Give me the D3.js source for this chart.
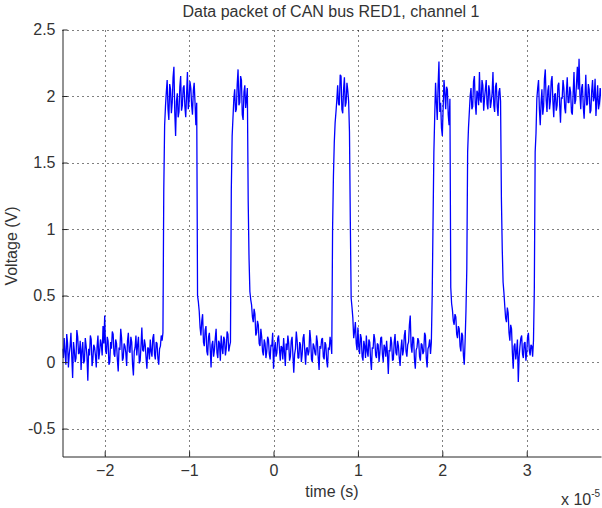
<!DOCTYPE html>
<html>
<head>
<meta charset="utf-8">
<script src="https://cdn.jsdelivr.net/npm/d3@7"></script>
<style>
  body { margin: 0; background: #fff; }
  svg { display: block; font-family: "Liberation Sans", Arial, sans-serif; }
</style>
</head>
<body>
<script>
// Scope capture of one CAN data packet (time in units of 1e-5 s)

let sampleStart = -2.5;
let sampleStep = 0.01;

// one value every 0.01 (x 10^-5 s), 20 per row
let voltage = [
    0.10, 0.03, 0.18, 0.07, -0.02, 0.21, 0.14, -0.04, 0.06, 0.12, 0.22, 0.04, -0.12, 0.15, 0.09, 0.00, 0.03, 0.24, 0.19, 0.06,
    0.07, 0.16, -0.06, 0.09, 0.15, -0.01, 0.01, 0.18, 0.12, 0.04, -0.14, 0.10, 0.05, 0.20, 0.17, -0.03, 0.02, 0.13, 0.11, 0.05,
    -0.04, 0.12, 0.20, 0.02, 0.08, 0.17, 0.13, 0.05, 0.27, 0.14, 0.35, 0.09, 0.06, 0.19, 0.16, -0.02, 0.00, 0.15, 0.10, 0.23,
    0.21, 0.06, 0.04, 0.17, 0.14, 0.02, -0.07, 0.11, 0.09, 0.25, 0.18, 0.01, 0.03, 0.14, 0.12, 0.07, -0.03, 0.16, 0.22, 0.08,
    0.07, 0.19, 0.15, -0.02, -0.10, 0.08, 0.11, 0.20, 0.05, 0.13, 0.19, -0.01, 0.01, 0.12, 0.26, 0.09, 0.08, 0.17, 0.13, 0.03,
    -0.05, 0.11, 0.10, 0.02, 0.17, 0.08, 0.04, 0.18, 0.21, 0.06, 0.02, 0.15, 0.14, 0.03, -0.02, 0.10, 0.12, 0.20, 0.16, 0.22,
    1.30, 1.78, 1.92, 2.03, 2.12, 1.90, 1.82, 2.09, 2.05, 1.87, 1.95, 2.14, 2.22, 1.88, 1.70, 1.96, 2.02, 1.84, 1.88, 2.07,
    2.15, 1.89, 1.93, 2.06, 2.08, 1.92, 1.84, 2.01, 2.18, 1.90, 1.97, 2.11, 2.06, 1.93, 1.86, 2.04, 2.10, 1.95, 1.78, 1.95,
    0.50, 0.45, 0.38, 0.26, 0.20, 0.31, 0.36, 0.15, 0.12, 0.24, 0.27, 0.08, 0.05, 0.19, 0.22, 0.10, -0.04, 0.13, 0.16, 0.04,
    0.09, 0.18, 0.25, 0.07, 0.03, 0.16, 0.14, 0.01, 0.20, 0.11, 0.06, 0.19, 0.17, 0.05, 0.10, 0.23, 0.21, 0.08, 0.12, 0.15,
    1.30, 1.70, 1.84, 1.98, 2.05, 1.88, 1.90, 2.09, 2.20, 1.93, 1.95, 2.15, 2.12, 1.86, 1.82, 2.03, 2.08, 1.91, 1.98, 2.06,
    1.21, 0.78, 0.53, 0.47, 0.43, 0.34, 0.30, 0.40, 0.36, 0.20, 0.22, 0.31, 0.28, 0.14, 0.12, 0.25, 0.19, 0.08, 0.05, 0.17,
    0.14, 0.03, 0.08, 0.19, 0.17, 0.06, 0.02, 0.13, 0.12, 0.22, -0.05, 0.09, 0.15, 0.04, 0.07, 0.18, 0.20, 0.10, 0.01, 0.12,
    0.11, 0.02, 0.18, 0.07, -0.03, 0.14, 0.09, 0.20, 0.14, 0.01, 0.04, 0.16, 0.19, 0.05, -0.08, 0.06, 0.10, 0.23, 0.16, 0.03,
    0.03, 0.15, 0.13, 0.00, 0.06, 0.18, 0.21, 0.09, -0.02, 0.10, 0.11, 0.05, 0.08, 0.24, 0.17, 0.02, 0.00, 0.14, 0.12, 0.07,
    0.05, 0.20, 0.15, 0.03, -0.06, 0.12, 0.10, 0.17, 0.18, 0.04, 0.02, 0.15, 0.13, 0.01, -0.04, 0.11, 0.09, 0.19, 0.14, 0.06,
    1.01, 1.40, 1.65, 1.80, 1.88, 1.97, 2.08, 1.94, 1.93, 2.16, 2.15, 1.90, 1.87, 2.05, 2.14, 1.92, 1.95, 2.10, 2.04, 1.96,
    1.73, 1.05, 0.48, 0.41, 0.33, 0.18, 0.23, 0.30, 0.14, 0.09, 0.26, 0.12, 0.06, 0.21, 0.18, 0.04, 0.01, 0.16, 0.12, 0.03,
    0.20, 0.08, 0.04, 0.17, 0.15, 0.02, -0.06, 0.11, 0.10, 0.21, 0.17, 0.05, 0.03, 0.14, 0.13, 0.00, 0.07, 0.18, 0.19, 0.06,
    0.00, 0.13, 0.11, 0.04, 0.16, 0.06, -0.09, 0.09, 0.08, 0.19, 0.14, 0.01, 0.02, 0.15, 0.21, 0.07, 0.05, 0.16, 0.12, 0.03,
    -0.03, 0.10, 0.17, 0.05, 0.09, 0.20, 0.24, 0.08, 0.04, 0.13, 0.15, 0.28, 0.35, 0.12, 0.07, 0.19, 0.18, 0.02, -0.05, 0.09,
    0.11, 0.18, 0.16, 0.04, 0.01, 0.14, 0.13, 0.06, 0.08, 0.22, 0.20, 0.03, -0.04, 0.10, 0.12, 0.17, 0.06, 0.15, 0.50, 1.05,
    1.58, 1.85, 2.10, 1.95, 1.82, 2.08, 2.26, 1.88, 1.95, 1.76, 1.70, 1.92, 2.12, 2.02, 1.90, 2.07, 2.05, 1.86, 1.78, 1.98,
    0.56, 0.44, 0.39, 0.31, 0.28, 0.36, 0.34, 0.21, 0.18, 0.27, 0.25, 0.12, 0.08, 0.22, 0.20, 0.05, -0.02, 0.16, 0.38, 0.70,
    1.58, 1.76, 1.88, 2.00, 2.06, 1.90, 1.92, 2.11, 2.15, 1.95, 1.86, 2.04, 2.02, 1.93, 2.18, 1.97, 1.95, 2.12, 2.08, 1.89,
    1.98, 2.05, 2.12, 1.94, 1.90, 2.08, 2.04, 1.91, 1.96, 2.02, 2.18, 1.93, 1.88, 2.07, 2.10, 1.92, 1.85, 2.03, 2.06, 1.96,
    1.23, 0.85, 0.60, 0.52, 0.42, 0.33, 0.30, 0.41, 0.37, 0.22, 0.16, 0.28, 0.25, 0.07, -0.05, 0.12, 0.14, 0.02, 0.08, 0.17,
    -0.15, 0.04, 0.12, 0.18, 0.20, 0.06, 0.03, 0.14, 0.15, 0.01, 0.07, 0.19, 0.22, 0.09, 0.05, 0.13, 0.12, 0.04, 0.16, 0.55,
    1.58, 1.72, 1.98, 2.06, 2.12, 1.90, 1.78, 1.95, 2.05, 1.86, 1.92, 2.13, 2.20, 1.97, 1.88, 2.04, 2.08, 1.90, 1.96, 2.11,
    2.15, 1.96, 1.84, 2.01, 2.02, 1.89, 1.93, 2.08, 2.10, 1.94, 1.80, 1.99, 1.98, 2.12, 2.06, 1.91, 1.87, 2.03, 2.14, 1.95,
    1.95, 2.07, 2.03, 1.88, 1.86, 2.02, 2.18, 1.94, 1.97, 2.10, 2.22, 2.05, 2.28, 2.01, 1.90, 2.06, 2.09, 1.92, 1.83, 1.99,
    2.16, 1.93, 1.94, 2.09, 2.05, 1.87, 1.89, 2.04, 2.12, 1.96, 1.99, 2.13, 1.85, 1.97, 2.08, 1.90, 1.94, 2.06, 2.02, 1.88,
    1.76
];

let xTicks = [-2, -1, 0, 1, 2, 3];
let yTicks = [-0.5, 0, 0.5, 1, 1.5, 2, 2.5];

let titleText = "Data packet of CAN bus RED1, channel 1";
let xLabel = "time (s)";
let yLabel = "Voltage (V)";

// Set up the svg
let svgWidth = 602;
let svgHeight = 508;

let plot = { left: 62.5, right: 601, top: 29.5, bottom: 456.5 };

let svg = d3.select("body")
            .append("svg")
            .attr("width", svgWidth)
            .attr("height", svgHeight);

// Scales
let x = d3.scaleLinear()
          .domain([-2.5, 3.88])
          .range([plot.left, plot.right]);

let y = d3.scaleLinear()
          .domain([-0.71, 2.5])
          .range([plot.bottom, plot.top]);

// Dotted grid
let grid = svg.append("g")
              .attr("stroke", "#000")
              .attr("stroke-width", 1)
              .attr("stroke-dasharray", "1,4");

grid.selectAll(".vgrid")
    .data(xTicks)
    .enter()
    .append("line")
    .attr("x1", d => Math.round(x(d)) + 0.5)
    .attr("x2", d => Math.round(x(d)) + 0.5)
    .attr("y1", plot.bottom)
    .attr("y2", plot.top);

grid.selectAll(".hgrid")
    .data(yTicks)
    .enter()
    .append("line")
    .attr("x1", plot.left)
    .attr("x2", plot.right)
    .attr("y1", d => Math.round(y(d)) + 0.5)
    .attr("y2", d => Math.round(y(d)) + 0.5);

// Signal
svg.append("clipPath")
   .attr("id", "clip")
   .append("rect")
   .attr("x", plot.left)
   .attr("y", plot.top - 5)
   .attr("width", plot.right - plot.left)
   .attr("height", plot.bottom - plot.top + 5);

let line = d3.line()
             .x((d, i) => x(sampleStart + i * sampleStep))
             .y(d => y(d));

svg.append("path")
   .datum(voltage)
   .attr("clip-path", "url(#clip)")
   .attr("fill", "none")
   .attr("stroke", "#0000ff")
   .attr("stroke-width", 1.3)
   .attr("stroke-linejoin", "bevel")
   .attr("d", line);

// Axes (ticks point inward like matlab)
let bottomAxis = d3.axisBottom(x)
                   .tickValues(xTicks)
                   .tickFormat(d3.format("d"))
                   .tickSizeInner(-5)
                   .tickSizeOuter(0)
                   .tickPadding(8);

let leftAxis = d3.axisLeft(y)
                 .tickValues(yTicks)
                 .tickFormat(d => String(d))
                 .tickSizeInner(-5)
                 .tickSizeOuter(0)
                 .tickPadding(7);

let xAxisG = svg.append("g")
                .attr("transform", `translate(0, ${plot.bottom})`)
                .call(bottomAxis);

let yAxisG = svg.append("g")
                .attr("transform", `translate(${plot.left}, 0)`)
                .call(leftAxis);

[xAxisG, yAxisG].forEach(g => {
    g.select(".domain").attr("stroke", "#262626");
    g.selectAll(".tick line").attr("stroke", "#262626");
    g.selectAll(".tick text")
     .attr("fill", "#333")
     .attr("font-size", "16px")
     .attr("font-family", "Liberation Sans, Arial, sans-serif");
});

// Labels
svg.append("text")
   .attr("x", 331)
   .attr("y", 17)
   .attr("text-anchor", "middle")
   .attr("font-size", "16px")
   .attr("fill", "#333")
   .text(titleText);

svg.append("text")
   .attr("x", 332)
   .attr("y", 497)
   .attr("text-anchor", "middle")
   .attr("font-size", "16px")
   .attr("fill", "#333")
   .text(xLabel);

svg.append("text")
   .attr("transform", "translate(17, 246) rotate(-90)")
   .attr("text-anchor", "middle")
   .attr("font-size", "16px")
   .attr("fill", "#333")
   .text(yLabel);

// exponent of the time axis
let expo = svg.append("text")
              .attr("x", 561)
              .attr("y", 505)
              .attr("font-size", "16px")
              .attr("fill", "#333");
expo.append("tspan").text("x 10");
expo.append("tspan")
    .attr("dy", -8)
    .attr("font-size", "10px")
    .text("-5");
</script>
</body>
</html>
